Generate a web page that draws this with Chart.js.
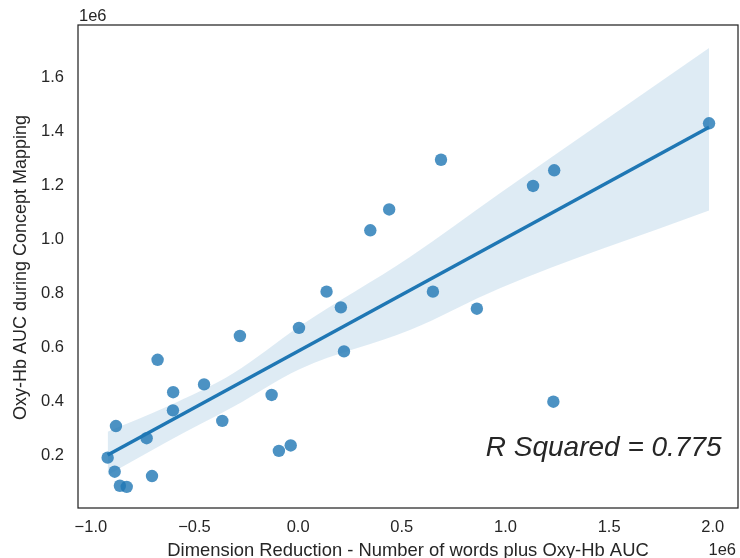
<!DOCTYPE html>
<html>
<head>
<meta charset="utf-8">
<script src="https://cdn.jsdelivr.net/npm/chart.js@4/dist/chart.umd.min.js"></script>
<style>
  html, body { margin: 0; padding: 0; background: #ffffff; }
  #c { display: block; }
</style>
</head>
<body>
<canvas id="c" width="740" height="558"></canvas>
<script>
// ---- data (units of 1e6) ----
const xVals = [-0.919, -0.879, -0.885, -0.860, -0.827, -0.731, -0.705, -0.678, -0.603, -0.604,
               -0.454, -0.366, -0.281, -0.128, -0.093, -0.036, 0.004, 0.137, 0.206, 0.221,
               0.650, 0.862, 1.231, 0.348, 0.439, 0.689, 1.133, 1.235, 1.982];
const yVals = [0.193, 0.310, 0.141, 0.089, 0.085, 0.265, 0.125, 0.555, 0.435, 0.368,
               0.464, 0.329, 0.643, 0.425, 0.218, 0.238, 0.673, 0.807, 0.749, 0.586,
               0.807, 0.744, 0.400, 1.034, 1.111, 1.295, 1.198, 1.256, 1.430];
const fitX = [-0.919, 1.982];
const fitY = [0.203, 1.415];
const bandX = [-0.919, -0.634, -0.313, 0.009, 0.539, 0.973, 1.982];
const bandUpper = [0.289, 0.381, 0.505, 0.680, 0.935, 1.171, 1.708];
const bandLower = [0.129, 0.251, 0.381, 0.521, 0.665, 0.820, 1.107];
const xTicks = [-1.0, -0.5, 0.0, 0.5, 1.0, 1.5, 2.0];
const yTicks = [0.2, 0.4, 0.6, 0.8, 1.0, 1.2, 1.4, 1.6];
const xTitle = 'Dimension Reduction - Number of words plus Oxy-Hb AUC';
const yTitle = 'Oxy-Hb AUC during Concept Mapping';
const offsetText = '1e6';
const annText = 'R Squared = 0.775';
const annX = 0.9;
const annY = 0.2;

const toPts = (xs, ys) => xs.map((x, i) => ({ x: x, y: ys[i] }));
const TXT = '#262626';
const FONT = '"Liberation Sans", Arial, sans-serif';
const fmt = v => { const s = Number(v).toFixed(1); return v < 0 ? '\u2212' + s.slice(1) : s; };

const decor = {
  id: 'decor',
  afterDraw(chart) {
    const ctx = chart.ctx;
    const a = chart.chartArea;
    const xs = chart.scales.x, ys = chart.scales.y;
    ctx.save();
    // frame
    ctx.strokeStyle = TXT;
    ctx.lineWidth = 1.25;
    ctx.strokeRect(a.left, a.top, a.right - a.left, a.bottom - a.top);
    ctx.fillStyle = TXT;
    // offset labels
    ctx.font = '16.5px ' + FONT;
    ctx.textBaseline = 'alphabetic';
    ctx.textAlign = 'left';
    ctx.fillText(offsetText, a.left + 1, 20.5);
    ctx.textAlign = 'right';
    ctx.fillText(offsetText, 736, 555);
    // axis titles
    ctx.font = '18.4px ' + FONT;
    ctx.textAlign = 'center';
    ctx.fillText(xTitle, (a.left + a.right) / 2, 556);
    ctx.font = '18px ' + FONT;
    ctx.save();
    ctx.translate(26, (a.top + a.bottom) / 2 + 1);
    ctx.rotate(-Math.PI / 2);
    ctx.fillText(yTitle, 0, 0);
    ctx.restore();
    // annotation
    ctx.font = 'italic 28px ' + FONT;
    ctx.textAlign = 'left';
    ctx.fillText(annText, xs.getPixelForValue(annX) + 1, ys.getPixelForValue(annY));
    ctx.restore();
  }
};

new Chart(document.getElementById('c'), {
  type: 'scatter',
  data: {
    datasets: [
      {
        type: 'line', label: 'fit', data: toPts(fitX, fitY), order: 1,
        borderColor: 'rgb(31,119,180)', borderWidth: 3.5, pointRadius: 0, fill: false
      },
      {
        type: 'line', label: 'lower', data: toPts(bandX, bandLower), order: 2,
        borderWidth: 0, borderColor: 'rgba(0,0,0,0)', pointRadius: 0, fill: false,
        cubicInterpolationMode: 'monotone'
      },
      {
        type: 'line', label: 'upper', data: toPts(bandX, bandUpper), order: 2,
        borderWidth: 0, borderColor: 'rgba(0,0,0,0)', pointRadius: 0,
        fill: '-1', backgroundColor: 'rgba(31,119,180,0.15)',
        cubicInterpolationMode: 'monotone'
      },
      {
        label: 'points', data: toPts(xVals, yVals), order: 3,
        backgroundColor: 'rgba(31,119,180,0.8)', borderWidth: 0, pointRadius: 6.2,
        pointHoverRadius: 6.2
      }
    ]
  },
  options: {
    responsive: false,
    animation: false,
    devicePixelRatio: 1,
    layout: { autoPadding: false, padding: { top: 25, right: 2, left: 0, bottom: 0 } },
    plugins: { legend: { display: false }, tooltip: { enabled: false } },
    scales: {
      x: {
        type: 'linear', min: -1.062, max: 2.1216,
        grid: { display: false, drawTicks: false },
        border: { display: false },
        afterBuildTicks: s => { s.ticks = xTicks.map(v => ({ value: v })); },
        afterFit: s => { s.height = 50; s.paddingLeft = 0; s.paddingRight = 0; },
        ticks: { color: TXT, font: { family: FONT, size: 16.5 }, padding: 10, maxRotation: 0, autoSkip: false, callback: v => fmt(v) }
      },
      y: {
        type: 'linear', min: 0.0067, max: 1.7935,
        grid: { display: false, drawTicks: false },
        border: { display: false },
        afterBuildTicks: s => { s.ticks = yTicks.map(v => ({ value: v })); },
        afterFit: s => { s.width = 78; s.paddingTop = 0; s.paddingBottom = 0; },
        ticks: { color: TXT, font: { family: FONT, size: 16.5 }, padding: 14, autoSkip: false, callback: v => fmt(v) }
      }
    }
  },
  plugins: [decor]
});
</script>
</body>
</html>
